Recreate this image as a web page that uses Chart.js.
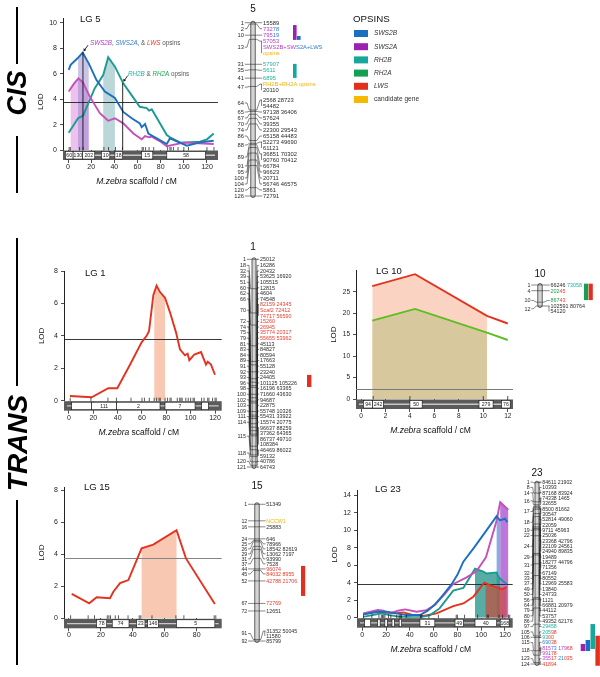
<!DOCTYPE html>
<html>
<head>
<meta charset="utf-8">
<title>Opsin QTL LOD profiles</title>
<script src="https://cdn.jsdelivr.net/npm/chart.js@4.4.1/dist/chart.umd.min.js"></script>
<style>
  html, body { margin: 0; padding: 0; background: #fff; }
  #wrap { position: relative; width: 600px; height: 677px; overflow: hidden; }
  #wrap canvas { position: absolute; }
</style>
</head>
<body>
<div id="wrap"></div>
<script>
const FONT = '"Liberation Sans", Arial, sans-serif';
Chart.defaults.font.family = FONT;

// ---- LOD profiles, [cM, LOD] ----
const lg5SWS2B = [[0.6,6.3],[2.3,6.7],[8,7.2],[12.7,7.66],[18,6.8],[24.6,5.5],[31.8,4.6],[40.5,4.1],[47.7,3.0],[55,2.5],[62,2.1],[63.6,1.8],[66.5,2.05],[69.4,1.3],[76.6,0.92],[85.3,0.47],[88,0.92],[91,0.8],[98,0.52],[102.6,0.34],[114,0.6],[125.8,0.73]];
const lg5SWS2A = [[0.6,4.6],[5,5.2],[9,5.64],[13,5.3],[18.8,4.2],[27.5,2.9],[34.7,2.3],[40.5,2.5],[47.7,2.1],[56.4,1.3],[63.6,0.84],[66.5,1.1],[70,1.0],[72.3,1.05],[80,0.65],[85.3,0.3],[99.8,0.58],[125.8,0.47]];
const lg5RH2B = [[0.6,1.36],[8.7,2.5],[13,2.7],[23,4.85],[30.4,5.9],[34.7,7.3],[40.5,6.56],[47.7,5.25],[55,4.3],[62,3.4],[68,3.3],[70,3.1],[72.3,3.2],[85.3,1.18],[88,1.0],[96.9,0.58],[114,0.66],[120,0.84],[125.8,1.3]];
const lg1LWS = [[0.8,0.29],[18.6,0.21],[32.3,0.77],[39.7,0.77],[50,2.2],[59.7,3.6],[63.8,4.0],[65.8,4.3],[69.3,6.5],[72,7.1],[74.8,6.7],[78.9,6.35],[83,5.45],[88,4.2],[91.2,3.17],[95.3,2.8],[97.5,2.9],[98.9,2.5],[103,2.85],[108.5,3.0],[112.6,2.23],[114,2.4],[116.7,2.23],[120,1.6]];
const lg10LWS = [[0.92,26.3],[4.42,29.1],[10.3,19.4],[12,17.6]];
const lg10RH2A = [[0.92,18.25],[4.42,21.0],[10.3,15.45],[12,13.75]];
const lg15LWS = [[1.7,1.52],[12.7,0.94],[17.3,1.31],[25.7,1.25],[27.8,1.66],[32,2.2],[37.2,2.39],[45.5,4.37],[52.8,4.6],[67.4,5.5],[73.3,3.74],[91.4,0.9]];
const lg23SWS2B = [[0.8,0.38],[13,0.68],[20.5,0.68],[29,0.5],[37,0.3],[48.5,0.3],[55,0.8],[61,1.5],[68,2.6],[75,3.8],[80,4.9],[85,6.4],[94,8.0],[104.6,10.0],[113,11.6],[116,11.1],[120,11.3],[122,10.9]];
const lg23SWS2A = [[0.8,0.5],[13,0.87],[17.7,0.8],[23,0.5],[30,0.8],[36,0.95],[45.7,0.68],[54,0.87],[61,1.44],[70,2.8],[76,3.8],[87.7,4.6],[96,5.3],[104,6.9],[113,11.1],[116,13.2],[121.4,12.5],[122.8,12.3]];
const lg23RH2B = [[0.8,0.1],[16.3,0.5],[23,0.3],[31.7,0.1],[48.5,0.04],[57,0.3],[65,1.06],[76.5,3.1],[82,3.3],[85,3.4],[94.8,5.6],[101.8,5.25],[104.6,5.05],[113,5.17],[114.4,4.68],[117.2,4.3],[121.4,3.85]];
const lg23LWS = [[0.8,0.42],[13,0.68],[19,0.6],[27.5,0.5],[34.5,0.6],[43,0.3],[51.3,0.19],[62.5,0.5],[76.5,1.33],[85,1.63],[93.4,2.4],[102.6,4.0],[107.4,3.73],[116,3.35],[117.2,3.23],[121.4,3.5]];

// QTL intervals shaded under the profiles, [from cM, to cM]
const lg5Int = { SWS2A: [2.3, 17.9], SWS2B: [8.7, 17.9], RH2B: [30.4, 40.5] };
const lg1Int = [70.1, 78.9];
const lg10Int = [0.92, 10.3];
const lg15Int = [45.5, 67.4];
const lg23Int = { SWS2A: [116, 123], SWS2B: [113, 116], RH2B: [94.8, 116], LWS: [103.7, 123] };
// LOD significance thresholds
const thresholds = { lg5: 3.75, lg1: 3.8, lg10: 2.3, lg15: 3.74, lg23: 3.8 };
// peaks pointed at in LG 5, [cM, LOD]
const lg5Peaks = [[12.9, 7.7], [47.2, 5.3]];

// M. zebra scaffolds along each LG, [from cM, to cM, scaffold]
const lg5Scaf = [[-2.3,4.4,'60'],[4.4,12.7,'130'],[12.7,23.1,'202'],[28.9,36.1,'10'],[40.5,47.1,'18'],[63.6,73.2,'15'],[85.3,118.6,'58']];
const lg1Scaf = [[2.2,18.6,''],[18.6,39.2,'111'],[39.2,74.8,'2'],[78.9,103.6,'7'],[109,114.5,'']];
const lg10Scaf = [[0.2,0.95,'94'],[0.95,1.83,'242'],[4.0,5.0,'50'],[9.65,10.8,'279'],[11.5,12.2,'76']];
const lg15Scaf = [[17.3,23.6,'78'],[27.1,37.6,'74'],[42.4,47.6,'23'],[49.3,56,'146'],[67.4,91.4,'5']];
const lg23Scaf = [[2,7,''],[13,15,''],[19,21,''],[25,27,''],[31,33,''],[48.5,61,'31'],[78,85,'49'],[94.8,113,'40'],[116,123.6,'168']];

const xTicks120 = [0, 20, 40, 60, 80, 100, 120];
const xTicks80 = [0, 20, 40, 60, 80];
const xTicks12 = [0, 2, 4, 6, 8, 10, 12];
const yTicks10 = [0, 2, 4, 6, 8, 10];
const yTicks8 = [0, 2, 4, 6, 8];
const yTicks25 = [0, 5, 10, 15, 20, 25];
const yTicks14 = [0, 2, 4, 6, 8, 10, 12, 14];

// ---- linkage maps: [cM, marker lines]; [x] = colour of following text ----
const map5 = [[1,['15589']],[2,['[m]732[b]78']],[10,['[m]795[b]19']],[13,['[m]57053','[m]SWS2B+SW[b]S2A+LWS','[y]opsins']],
  [31,['[t]57907']],[35,['[t]5611']],[41,['[t]6895']],[47,['[y]RH2B+RH2A opsins','20110']],[64,['2568 28723','54482']],
  [65,['97138 36406']],[67,['57624']],[70,['39355']],[74,['22300 29543']],[86,['65158 44483']],[88,['52273 49690','61121']],
  [89,['36851 70302','90760 70412']],[91,['66784']],[95,['96623']],[100,['20711']],[104,['56746 46575']],[120,['5861']],[126,['72791']]];
const map1 = [[1,['25012']],[18,['16286']],[32,['20432']],[39,['53625 16920']],[51,['105515']],[60,['12815']],[62,['4604']],[66,['74548']],
  [70,['[r]82159 24345','[r]Scaf2 72412','[r]74717 56590']],[72,['[r]15260']],[74,['[r]26945']],[75,['[r]35774 20317']],[79,['[r]55655 53962']],
  [81,['45113']],[83,['84827']],[84,['80594']],[89,['17663']],[91,['55128']],[92,['23240']],[93,['24405']],[96,['101125 105226']],
  [98,['16196 63365']],[100,['71660 43630']],[102,['94687']],[103,['22875']],[109,['55748 10326']],[111,['55431 33922']],[114,['15574 20775']],
  [115,['96637 88259','37362 64365','86737 49710','108384']],[118,['46469 86022','59132']],[120,['40786']],[121,['64743']]];
const map10 = [[1,['66246 [t]73058']],[4,['[g]202[r]45']],[10,['[g]867[r]43']],[12,['102591 80764','54120']]];
const map15 = [[1,['51349']],[12,['[y]NCCW1']],[16,['25883']],[24,['646']],[25,['78966']],[26,['18542 82619']],[29,['13062 7197']],
  [31,['93990']],[37,['7528']],[44,['[r]96074']],[45,['[r]84032 8955']],[52,['[r]42788 21706']],[67,['[r]72769']],[72,['12651']],
  [91,['31352 50045','11580']],[92,['85799']]];
const map23 = [[1,['84611 21902']],[8,['10393']],[14,['87168 83924']],[16,['74338 1465','32655']],[17,['8500 81662','30547']],
  [18,['52814 49060','22059']],[19,['9711 45963']],[22,['25036']],[24,['23368 42796','22109 24561','24940 89835']],[29,['19489']],
  [31,['18277 44796','71356']],[32,['67149']],[33,['80552']],[37,['12969 25583']],[49,['13840']],[50,['24733']],[56,['1121']],
  [64,['66881 20979']],[79,['44112']],[80,['53757']],[86,['49352 62176']],[97,['[t]29458']],[105,['[t]205[r]98']],[106,['[t]93[r]00']],
  [115,['[b]690[r]38']],[118,['[m]815[b]73 [m]179[r]68','[m]991[r]78']],[123,['[m]355[r]17 [b]21[r]035']],[124,['[r]41894']]];
// opsin QTL bars beside the maps, [from cM, to cM, opsin, column]
const map5Qtl = [[2.7,13.4,'p',0],[10.6,13.4,'b',1],[30.7,40.8,'t',0]];
const map1Qtl = [[67.8,74.8,'r',0]];
const map10Qtl = [[0.3,8.9,'g',0],[0.3,8.9,'r',1]];
const map15Qtl = [[42,62,'r',0]];
const map23Qtl = [[110.4,115.2,'p',0],[107.7,115.2,'b',1],[96.9,113.8,'t',2],[104.8,125.2,'r',3]];

const legendItems = [['SWS2B','b',true],['SWS2A','p',true],['RH2B','t',true],['RH2A','g',true],['LWS','r',true],['candidate gene','y',false]];

// ---- colours ----
const LINE = { b: '#1b6fbe', m: '#c64fba', t: '#1b9b8f', g: '#5cbf1f', r: '#e5321f' };
const TXT = { b: '#2b7fd2', m: '#b43cc4', t: '#1fb0a2', g: '#19a64c', r: '#ea3b2c', y: '#f2b400', k: '#2a2a2a' };
const OPS = { b: '#1a6fc0', p: '#9b22b0', t: '#16a99b', g: '#12a052', r: '#e2301e', y: '#f7b800' };

const wrap = document.getElementById('wrap');

function addCanvas(left, top, w, h) {
  const cv = document.createElement('canvas');
  cv.width = w; cv.height = h;
  cv.style.left = left + 'px'; cv.style.top = top + 'px';
  wrap.appendChild(cv);
  return cv;
}

function line(ctx, x0, y0, x1, y1) {
  ctx.beginPath(); ctx.moveTo(x0, y0); ctx.lineTo(x1, y1); ctx.stroke();
}

// ---------- LOD chart decorations ----------
const lgPlugin = {
  id: 'lgdeco',
  beforeDatasetsDraw(chart, args, o) {
    const ctx = chart.ctx, xs = chart.scales.x, ys = chart.scales.y, ca = chart.chartArea;
    const base = ys.getPixelForValue(0);
    o.bands.forEach(([si, iv, color]) => {
      const pts = chart.getDatasetMeta(si).data;
      const x0 = xs.getPixelForValue(iv[0]), x1 = xs.getPixelForValue(iv[1]);
      ctx.save();
      ctx.beginPath(); ctx.rect(x0, ca.top, x1 - x0, ca.bottom - ca.top); ctx.clip();
      ctx.beginPath(); ctx.moveTo(pts[0].x, base);
      pts.forEach(p => ctx.lineTo(p.x, p.y));
      ctx.lineTo(pts[pts.length - 1].x, base); ctx.closePath();
      ctx.fillStyle = color; ctx.fill();
      ctx.restore();
    });
    const [tv, tc, tw] = o.thr;
    const ty = Math.round(ys.getPixelForValue(tv)) + 0.5;
    ctx.save(); ctx.strokeStyle = tc; ctx.lineWidth = tw;
    line(ctx, ca.left, ty, ca.right, ty);
    ctx.restore();
  },
  afterDatasetsDraw(chart, args, o) {
    const ctx = chart.ctx, xs = chart.scales.x, ys = chart.scales.y;
    ctx.save(); ctx.strokeStyle = '#111'; ctx.fillStyle = '#111'; ctx.lineWidth = 0.9;
    (o.marks || []).forEach(([mx, my]) => {
      const px = xs.getPixelForValue(mx), py = ys.getPixelForValue(my);
      line(ctx, px, ys.getPixelForValue(0), px, py);
      line(ctx, px + 5, py - 7, px + 1.5, py - 2);
      ctx.beginPath(); ctx.moveTo(px + 0.8, py - 0.8); ctx.lineTo(px + 0.6, py - 4); ctx.lineTo(px + 3.3, py - 2.3); ctx.closePath(); ctx.fill();
    });
    ctx.restore();
  },
  afterDraw(chart, args, o) {
    const ctx = chart.ctx, xs = chart.scales.x, ca = chart.chartArea;
    const y0 = ca.bottom + 0.5, h = 9.5;
    ctx.save();
    ctx.fillStyle = '#5b5b5b'; ctx.fillRect(ca.left, y0, ca.right - ca.left, h);
    ctx.strokeStyle = '#c9c9c9'; ctx.lineWidth = 1.3;
    line(ctx, ca.left + 3, y0 + h / 2, ca.right - 3, y0 + h / 2);
    o.scaf.forEach(([f, t, lab]) => {
      const x0 = Math.max(ca.left + 1, xs.getPixelForValue(f));
      const x1 = Math.min(ca.right - 1, xs.getPixelForValue(t));
      ctx.fillStyle = '#fff'; ctx.fillRect(x0, y0 + 1, x1 - x0, h - 2);
      ctx.strokeStyle = '#111'; ctx.lineWidth = 0.6; ctx.strokeRect(x0, y0 + 1, x1 - x0, h - 2);
      if (lab) {
        ctx.fillStyle = '#222'; ctx.font = '5.2px ' + FONT;
        ctx.textAlign = 'center'; ctx.textBaseline = 'middle';
        ctx.fillText(lab, (x0 + x1) / 2, y0 + h / 2 + 0.3);
      }
    });
    ctx.strokeStyle = '#111'; ctx.lineWidth = 0.7;
    o.markers.forEach(m => {
      const x = xs.getPixelForValue(m);
      line(ctx, x, ca.bottom - 3, x, ca.bottom + 0.5);
    });
    ctx.restore();
  }
};

function lgChart(c) {
  const a = c.area, padL = 40, padT = 26;
  const w = a.r - a.l, h = a.b - a.t;
  const W = Math.ceil(w + padL + 8), H = Math.ceil(h + padT + 46);
  const padR = W - padL - w, padB = H - padT - h;
  const cv = addCanvas(a.l - padL, a.t - padT, W, H);
  new Chart(cv, {
    type: 'line',
    data: {
      datasets: c.series.map(([pts, col]) => ({
        data: pts.map(([x, y]) => ({ x, y })),
        borderColor: col, borderWidth: 1.9, pointRadius: 0, fill: false, tension: 0
      }))
    },
    options: {
      responsive: false, animation: false, devicePixelRatio: 1,
      layout: { padding: { left: 0, top: padT, right: padR, bottom: 0 } },
      scales: {
        x: {
          type: 'linear', min: c.xr[0], max: c.xr[1],
          afterFit: s => { s.height = padB; },
          afterBuildTicks: s => { s.ticks = c.xTicks.map(v => ({ value: v })); },
          grid: { drawOnChartArea: false, tickLength: 13, color: '#222', lineWidth: 0.8 },
          border: { display: false },
          ticks: { autoSkip: false, maxRotation: 0, padding: 0, color: '#222', font: { size: c.tf } }
        },
        y: {
          type: 'linear', min: c.yr[0], max: c.yr[1],
          afterFit: s => { s.width = padL; },
          afterBuildTicks: s => { s.ticks = c.yTicks.map(v => ({ value: v })); },
          grid: { drawOnChartArea: false, tickLength: 3, color: '#222', lineWidth: 0.8 },
          border: { display: true, color: '#222', width: 1 },
          ticks: { autoSkip: false, padding: 3, color: '#222', font: { size: c.tf } }
        }
      },
      plugins: { legend: { display: false }, tooltip: { enabled: false }, lgdeco: c }
    },
    plugins: [lgPlugin]
  });
}

// ---------- linkage map drawing ----------
function segs(str, def) {
  const parts = str.split(/\[(\w)\]/);
  const out = [];
  let col = def;
  parts.forEach((p, i) => { if (i % 2) col = TXT[p]; else if (p) out.push([p, col]); });
  return out;
}

const mapPlugin = {
  id: 'linkmap',
  afterDraw(chart, args, o) {
    const ctx = chart.ctx, cx = chart.scales.x.getPixelForValue(0);
    const pts = chart.getDatasetMeta(0).data;
    const rows = o.rows, lh = o.lineH, n = rows.length;
    const hs = rows.map(r => r[1].length * lh);
    const yTop = pts[0].y, yBot = pts[n - 1].y;
    const top = rows.map((r, i) => pts[i].y - hs[i] / 2);
    for (let k = 0; k < 4; k++) {
      for (let i = 0; i < n; i++) top[i] = Math.max(top[i], i ? top[i - 1] + hs[i - 1] : yTop - lh / 2);
      for (let i = n - 1; i >= 0; i--) top[i] = Math.min(top[i], i < n - 1 ? top[i + 1] - hs[i] : yBot - lh / 2);
    }
    const w = o.w;
    ctx.save();
    // chromosome
    ctx.fillStyle = '#d4d4d4'; ctx.strokeStyle = '#222'; ctx.lineWidth = 0.7;
    ctx.beginPath();
    ctx.roundRect(cx - w / 2, yTop - 1.5, w, yBot - yTop + 3, w / 2);
    ctx.fill(); ctx.stroke();
    ctx.lineWidth = 0.55;
    ctx.textBaseline = 'middle';
    rows.forEach((r, i) => {
      const ty = pts[i].y, ly = top[i] + hs[i] / 2, fy = top[i] + lh / 2, lastY = top[i] + hs[i] - lh / 2;
      ctx.strokeStyle = '#222';
      line(ctx, cx - w / 2 - 1.5, ty, cx + w / 2 + 1.5, ty);
      // left connector + cM label
      ctx.beginPath();
      ctx.moveTo(cx - w / 2 - 1.5, ty); ctx.lineTo(cx - o.lOff + 3, ly); ctx.lineTo(cx - o.lOff + 0.8, ly);
      ctx.stroke();
      ctx.font = o.font + 'px ' + FONT; ctx.fillStyle = TXT.k; ctx.textAlign = 'right';
      ctx.fillText(String(r[0]), cx - o.lOff, ly + 0.3);
      // right connector + marker names
      ctx.beginPath();
      ctx.moveTo(cx + w / 2 + 1.5, ty); ctx.lineTo(cx + o.rOff - 3, fy); ctx.lineTo(cx + o.rOff - 0.8, fy);
      ctx.stroke();
      if (hs[i] > lh) line(ctx, cx + o.rOff - 1.5, fy, cx + o.rOff - 1.5, lastY);
      ctx.textAlign = 'left';
      r[1].forEach((txt, j) => {
        let x = cx + o.rOff;
        segs(txt, TXT.k).forEach(([s, col]) => {
          ctx.fillStyle = col; ctx.fillText(s, x, top[i] + lh * (j + 0.5) + 0.3);
          x += ctx.measureText(s).width;
        });
      });
    });
    // opsin QTL bars
    const ys = chart.scales.y;
    o.bars.forEach(([f, t, key, col]) => {
      const y0 = ys.getPixelForValue(f), y1 = ys.getPixelForValue(t);
      ctx.fillStyle = OPS[key];
      ctx.fillRect(cx + o.barX + col * o.barW, y0, o.barW - 0.4, y1 - y0);
    });
    ctx.restore();
  }
};

function mapChart(m) {
  const half = m.half;
  const left = Math.round(m.cx - half), top = Math.floor(m.y0 - 14);
  const H = Math.ceil(m.y1 + 16 - top);
  const cv = addCanvas(left, top, half * 2, H);
  new Chart(cv, {
    type: 'scatter',
    data: { datasets: [{ data: m.rows.map(r => ({ x: 0, y: r[0] })), pointRadius: 0, showLine: false }] },
    options: {
      responsive: false, animation: false, devicePixelRatio: 1,
      layout: { padding: { left: 0, right: 0, top: m.y0 - top, bottom: top + H - m.y1 } },
      scales: {
        x: { type: 'linear', min: -1, max: 1, display: false },
        y: { type: 'linear', min: m.rows[0][0], max: m.rows[m.rows.length - 1][0], reverse: true, display: false }
      },
      plugins: { legend: { display: false }, tooltip: { enabled: false }, linkmap: m }
    },
    plugins: [mapPlugin]
  });
}

// ---------- build the panels ----------
const panels = [
  { area: { l: 63, t: 18, r: 218, b: 150 }, xr: [-4.32, 129.5], yr: [0, 10.39], xTicks: xTicks120, yTicks: yTicks10, tf: 7,
    series: [[lg5SWS2B, LINE.b], [lg5SWS2A, LINE.m], [lg5RH2B, LINE.t]],
    bands: [[1, lg5Int.SWS2A, 'rgba(226,160,228,0.65)'], [0, lg5Int.SWS2B, 'rgba(130,115,200,0.42)'], [2, lg5Int.RH2B, '#bcd7da']],
    thr: [thresholds.lg5, '#222', 0.9], scaf: lg5Scaf, markers: map5.map(r => r[0]), marks: lg5Peaks,
    title: ['LG 5', 80, 19], lod: [41, 3.8], xTitle: true },
  { area: { l: 64, t: 271, r: 221.7, b: 400.7 }, xr: [-4.1, 125.5], yr: [0, 8], xTicks: xTicks120, yTicks: yTicks8, tf: 7,
    series: [[lg1LWS, LINE.r]],
    bands: [[0, lg1Int, '#f9c8b3']],
    thr: [thresholds.lg1, '#222', 0.9], scaf: lg1Scaf, markers: map1.map(r => r[0]),
    title: ['LG 1', 85, 273], lod: [42, 4], xTitle: true },
  { area: { l: 356, t: 270, r: 513, b: 399 }, xr: [-0.41, 12.43], yr: [0, 30.07], xTicks: xTicks12, yTicks: yTicks25, tf: 6.5,
    series: [[lg10LWS, LINE.r], [lg10RH2A, LINE.g]],
    bands: [[0, lg10Int, '#fbd3c3'], [1, lg10Int, '#d8c89e']],
    thr: [thresholds.lg10, '#7a7a7a', 1.2], scaf: lg10Scaf, markers: map10.map(r => r[0]),
    title: ['LG 10', 376, 271], lod: [334, 15], xTitle: true },
  { area: { l: 64, t: 487, r: 221.7, b: 618.3 }, xr: [-3.13, 95.7], yr: [0, 8.2], xTicks: xTicks80, yTicks: yTicks8, tf: 7,
    series: [[lg15LWS, LINE.r]],
    bands: [[0, lg15Int, '#f9c8b3']],
    thr: [thresholds.lg15, '#858585', 1.2], scaf: lg15Scaf, markers: map15.map(r => r[0]),
    title: ['LG 15', 84, 487], lod: [42, 4.1], xTitle: false },
  { area: { l: 357, t: 490, r: 512.7, b: 617.7 }, xr: [-4.46, 126.5], yr: [0, 14.58], xTicks: xTicks120, yTicks: yTicks14, tf: 7,
    series: [[lg23SWS2B, LINE.b], [lg23SWS2A, LINE.m], [lg23RH2B, LINE.t], [lg23LWS, LINE.r]],
    bands: [[1, lg23Int.SWS2A, 'rgba(175,95,210,0.85)'], [0, lg23Int.SWS2B, 'rgba(110,150,220,0.8)'],
            [2, lg23Int.RH2B, 'rgba(40,150,140,0.78)'], [3, lg23Int.LWS, 'rgba(215,65,45,0.62)']],
    thr: [thresholds.lg23, '#222', 0.9], scaf: lg23Scaf, markers: map23.map(r => r[0]),
    title: ['LG 23', 375, 489], lod: [335, 7.2], xTitle: true }
];
panels.forEach(lgChart);

const maps = [
  { rows: map5, cx: 253, y0: 22.7, y1: 196, half: 80, lineH: 6, font: 5.8, lOff: 9, rOff: 10, w: 4.5, barX: 40, barW: 4, bars: map5Qtl, title: ['5', 253, 9] },
  { rows: map1, cx: 254, y0: 259.3, y1: 467, half: 62, lineH: 5.6, font: 5.4, lOff: 8, rOff: 6, w: 4, barX: 53, barW: 4.8, bars: map1Qtl, title: ['1', 253, 247] },
  { rows: map10, cx: 540, y0: 285, y1: 306, half: 58, lineH: 5.5, font: 5.4, lOff: 9.5, rOff: 10.5, w: 4.5, barX: 44, barW: 4.6, bars: map10Qtl, title: ['10', 540, 274] },
  { rows: map15, cx: 257, y0: 504.3, y1: 641, half: 56, lineH: 5, font: 5.3, lOff: 9.7, rOff: 9.3, w: 4.5, barX: 44, barW: 4.6, bars: map15Qtl, title: ['15', 257, 486] },
  { rows: map23, cx: 537, y0: 482.7, y1: 664, half: 63, lineH: 5.35, font: 5.2, lOff: 7.3, rOff: 5.3, w: 4, barX: 43.7, barW: 4.9, bars: map23Qtl, title: ['23', 537, 473] }
];
maps.forEach(mapChart);

// ---------- text overlay ----------
const ov = addCanvas(0, 0, 600, 677);
const g = ov.getContext('2d');

function rich(x, y, parts, size, align) {
  let w = 0;
  parts.forEach(p => { g.font = (p[2] ? 'italic ' : '') + size + 'px ' + FONT; w += g.measureText(p[0]).width; });
  let cx = align === 'center' ? x - w / 2 : x;
  g.textAlign = 'left'; g.textBaseline = 'middle';
  parts.forEach(p => {
    g.font = (p[2] ? 'italic ' : '') + size + 'px ' + FONT;
    g.fillStyle = p[1]; g.fillText(p[0], cx, y);
    cx += g.measureText(p[0]).width;
  });
}

function vText(txt, cx, cy, size, font) {
  g.save(); g.translate(cx, cy); g.rotate(-Math.PI / 2);
  g.font = font + ' ' + size + 'px ' + FONT; g.fillStyle = '#000';
  g.textAlign = 'center'; g.textBaseline = 'middle';
  g.fillText(txt, 0, 0); g.restore();
}

// CIS / TRANS side labels
vText('CIS', 19, 93, 27, 'italic bold');
vText('TRANS', 19, 443, 28, 'italic bold');
g.strokeStyle = '#000'; g.lineWidth = 2;
[[7, 64], [136, 193], [238, 386], [500, 665]].forEach(([a, b]) => line(g, 17, a, 17, b));

panels.forEach(p => {
  const a = p.area;
  rich(p.title[1], p.title[2], [[p.title[0], '#111', false]], 9.5, 'left');
  const ly = a.b - p.lod[1] * (a.b - a.t) / p.yr[1];
  g.save(); g.translate(p.lod[0], ly); g.rotate(-Math.PI / 2);
  g.font = '8px ' + FONT; g.fillStyle = '#111'; g.textAlign = 'center'; g.textBaseline = 'middle';
  g.fillText('LOD', 0, 0); g.restore();
  if (p.xTitle) rich((a.l + a.r) / 2 - 4, a.b + 32, [['M.zebra', '#111', true], [' scaffold / cM', '#111', false]], 8.5, 'center');
});

maps.forEach(m => rich(m.title[1], m.title[2], [[m.title[0], '#111', false]], 10, 'center'));

// LG 5 peak annotations
rich(90, 43, [['SWS2B', TXT.m, true], [', ', '#555', false], ['SWS2A', TXT.b, true], [', & ', '#555', false], ['LWS', TXT.r, true], [' opsins', '#555', false]], 6.3, 'left');
rich(128, 74, [['RH2B', TXT.t, true], [' & ', '#555', false], ['RH2A', TXT.g, true], [' opsins', '#555', false]], 6.3, 'left');

// opsin legend
rich(353, 19, [['OPSINS', '#111', false]], 9.7, 'left');
legendItems.forEach(([lab, key, it], i) => {
  const y = 33.5 + i * 13.2;
  g.fillStyle = OPS[key]; g.fillRect(354, y - 3.5, 14, 7);
  rich(374, y, [[lab, '#333', it]], 6.6, 'left');
});
</script>
</body>
</html>
